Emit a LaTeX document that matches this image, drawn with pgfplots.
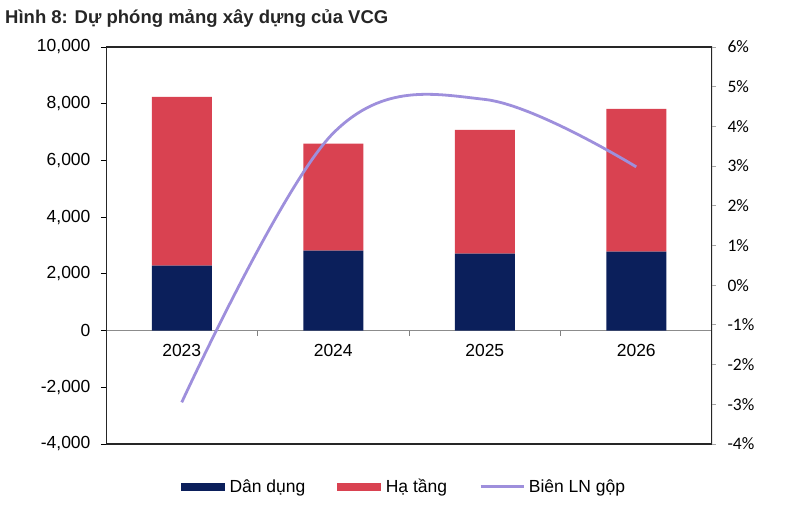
\documentclass[border=0pt]{standalone}
\usepackage{pgfplots}
\pgfplotsset{compat=1.18}
\usepackage{fontspec}
\setmainfont{Liberation Sans}
\newfontfamily\carlito{Carlito}
\definecolor{navy}{RGB}{11,31,91}
\definecolor{redbar}{RGB}{217,66,81}
\definecolor{lav}{RGB}{158,143,220}
\begin{document}
\begin{tikzpicture}
\useasboundingbox (-106pt,-65pt) rectangle (702pt,444pt);
\node[anchor=base west, inner sep=0pt, font=\bfseries\fontsize{18.5}{21}\selectfont, text=black!85] at (-101pt,420pt) {Hình 8: Dự phóng mảng xây dựng của VCG};
\begin{axis}[
  scale only axis, width=606pt, height=397pt,
  at={(0pt,0pt)}, anchor=south west,
  xmin=-0.5, xmax=3.5, ymin=-4000, ymax=10000,
  axis x line*=middle, axis y line*=left,
  x axis line style={draw=black!45, line width=0.8pt},
  y axis line style={draw=none},
  ytick={-4000,-2000,...,10000},
  scaled y ticks=false,
  xtick={0.5,1.5,2.5}, xticklabels={},
  extra x ticks={0,1,2,3},
  extra x tick labels={2023,2024,2025,2026},
  extra x tick style={major tick length=0pt, xticklabel style={yshift=-10pt}},
  tick align=outside, major tick length=5pt,
  x tick style={draw=black!50, line width=0.8pt},
  y tick style={draw=black, line width=0.8pt},
  /pgf/number format/.cd, 1000 sep={,}, assume math mode=true,
  /pgfplots/.cd,
  ticklabel style={font=\fontsize{17.5}{20}\selectfont},
  yticklabel style={xshift=-7pt},
  ybar stacked, bar width=60pt,
]
\addplot[fill=navy, draw=none] coordinates {(0,2290) (1,2820) (2,2710) (3,2780)};
\addplot[fill=redbar, draw=none] coordinates {(0,5950) (1,3770) (2,4370) (3,5040)};
\draw[black!85, line width=1.1pt] (rel axis cs:0,0) rectangle (rel axis cs:1,1);
\end{axis}
\begin{axis}[
  scale only axis, width=606pt, height=397pt,
  at={(0pt,0pt)}, anchor=south west,
  xmin=-0.5, xmax=3.5, ymin=-4, ymax=6,
  axis x line=none, axis y line*=right,
  y axis line style={draw=none},
  ytick={-4,-3,...,6},
  tick align=outside, major tick length=4pt,
  y tick style={draw=black!35, line width=0.8pt},
  yticklabel={\pgfmathprintnumber[assume math mode=true]{\tick}\%},
  yticklabel style={font=\carlito\fontsize{17.5}{20}\selectfont, xshift=8pt},
  legend columns=3,
  legend style={at={(0.492,-0.108)}, anchor=center, draw=none, fill=none,
    font=\fontsize{17.5}{20}\selectfont,
    /tikz/every even column/.append style={column sep=30pt}},
  legend cell align=left,
]
\addlegendimage{legend image code/.code={\fill[navy] (0pt,-3.5pt) rectangle (43pt,3.5pt); \path (46pt,0pt);}}
\addlegendentry{Dân dụng}
\addlegendimage{legend image code/.code={\fill[redbar] (0pt,-3.5pt) rectangle (43pt,3.5pt); \path (46pt,0pt);}}
\addlegendentry{Hạ tầng}
\addlegendimage{legend image code/.code={\draw[lav, line width=3pt] (0pt,0pt) -- (43pt,0pt); \path (46pt,0pt);}}
\addlegendentry{Biên LN gộp}
\addplot[lav, line width=2.8pt, smooth, tension=0.6, forget plot] coordinates {(0,-2.95) (1,3.83) (2,4.68) (3,2.98)};
\end{axis}
\end{tikzpicture}
\end{document}
